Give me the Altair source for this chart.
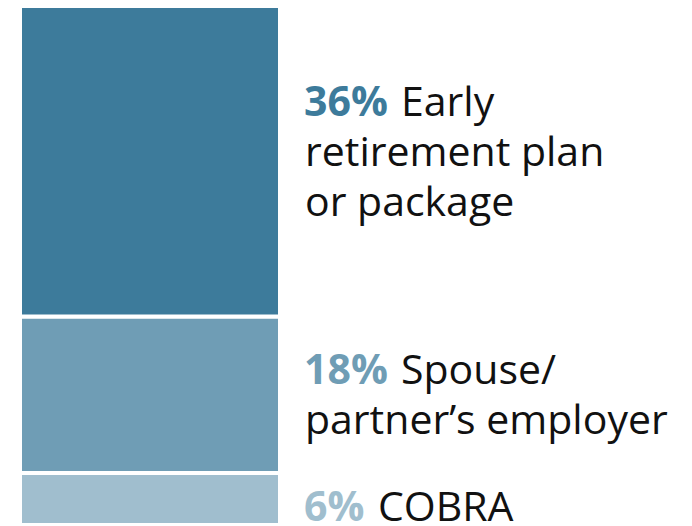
import altair as alt
import pandas as pd

# Data (bottom to top)
categories = ["COBRA", "Spouse/partner’s employer", "Early retirement plan or package"]
values = [6, 18, 36]
pct_labels = ["6%", "18%", "36%"]
first_lines = ["COBRA", "Spouse/", "Early"]
rest_lines = [[], ["partner’s employer"], ["retirement plan", "or package"]]
colors = ["#a0bece", "#6f9db5", "#3d7b9b"]

# Layout constants
H = 521
W = 260
Y_MAX = 60
K = H / Y_MAX          # px per percentage point
LINE_H = 50
FONT = "Open Sans"
FS = 41

df = pd.DataFrame({
    "bar": ["A"] * len(categories),
    "cat": categories,
    "value": values,
    "order": list(range(len(categories))),
    "pct": pct_labels,
    "first": first_lines,
    "rest": ["\n".join(r) for r in rest_lines],
    "nlines": [1 + len(r) for r in rest_lines],
})

yscale = alt.Scale(domain=[0, Y_MAX], nice=False, zero=True)
xscale = alt.Scale(paddingInner=0, paddingOuter=0)
cscale = alt.Scale(domain=categories, range=colors)

base = alt.Chart(df).transform_stack(
    stack="value", groupby=["bar"], as_=["y0", "y1"], sort=[alt.SortField("order")]
).transform_calculate(
    mid="(datum.y0 + datum.y1) / 2"
).transform_calculate(
    anchor=f"datum.mid + (33.5 * (datum.nlines - 1) - 22.5) / {K}"
)

bars = base.mark_bar(stroke="white", strokeWidth=4).encode(
    x=alt.X("bar:N", axis=None, scale=xscale),
    y=alt.Y("y0:Q", scale=yscale, axis=None),
    y2="y1:Q",
    color=alt.Color("cat:N", scale=cscale, legend=None),
)

pct = base.mark_text(
    align="left", baseline="alphabetic", dx=24, font=FONT, fontSize=FS, fontWeight="bold"
).encode(
    x=alt.X("bar:N", axis=None, scale=xscale, bandPosition=1),
    y=alt.Y("anchor:Q", scale=yscale, axis=None),
    text="pct:N",
    color=alt.Color("cat:N", scale=cscale, legend=None),
)

first3 = base.transform_filter("length(datum.pct) == 3").mark_text(
    align="left", baseline="alphabetic", dx=121, font=FONT, fontSize=FS, color="#111111"
).encode(
    x=alt.X("bar:N", axis=None, scale=xscale, bandPosition=1),
    y=alt.Y("anchor:Q", scale=yscale, axis=None),
    text="first:N",
)

first2 = base.transform_filter("length(datum.pct) == 2").mark_text(
    align="left", baseline="alphabetic", dx=98, font=FONT, fontSize=FS, color="#111111"
).encode(
    x=alt.X("bar:N", axis=None, scale=xscale, bandPosition=1),
    y=alt.Y("anchor:Q", scale=yscale, axis=None),
    text="first:N",
)

rest = base.transform_filter("datum.nlines > 1").mark_text(
    align="left", baseline="alphabetic", dx=25, dy=LINE_H, font=FONT, fontSize=FS,
    color="#111111", lineBreak="\n", lineHeight=LINE_H
).encode(
    x=alt.X("bar:N", axis=None, scale=xscale, bandPosition=1),
    y=alt.Y("anchor:Q", scale=yscale, axis=None),
    text="rest:N",
)

chart = alt.layer(bars, pct, first3, first2, rest).properties(
    width=W,
    height=H,
    padding={"left": 12, "top": -4, "right": 400, "bottom": 0},
    autosize=alt.AutoSizeParams(type="none"),
).configure_view(stroke=None).configure(background="white")

chart.save("out.html", embed_options={"renderer": "svg", "actions": False})
